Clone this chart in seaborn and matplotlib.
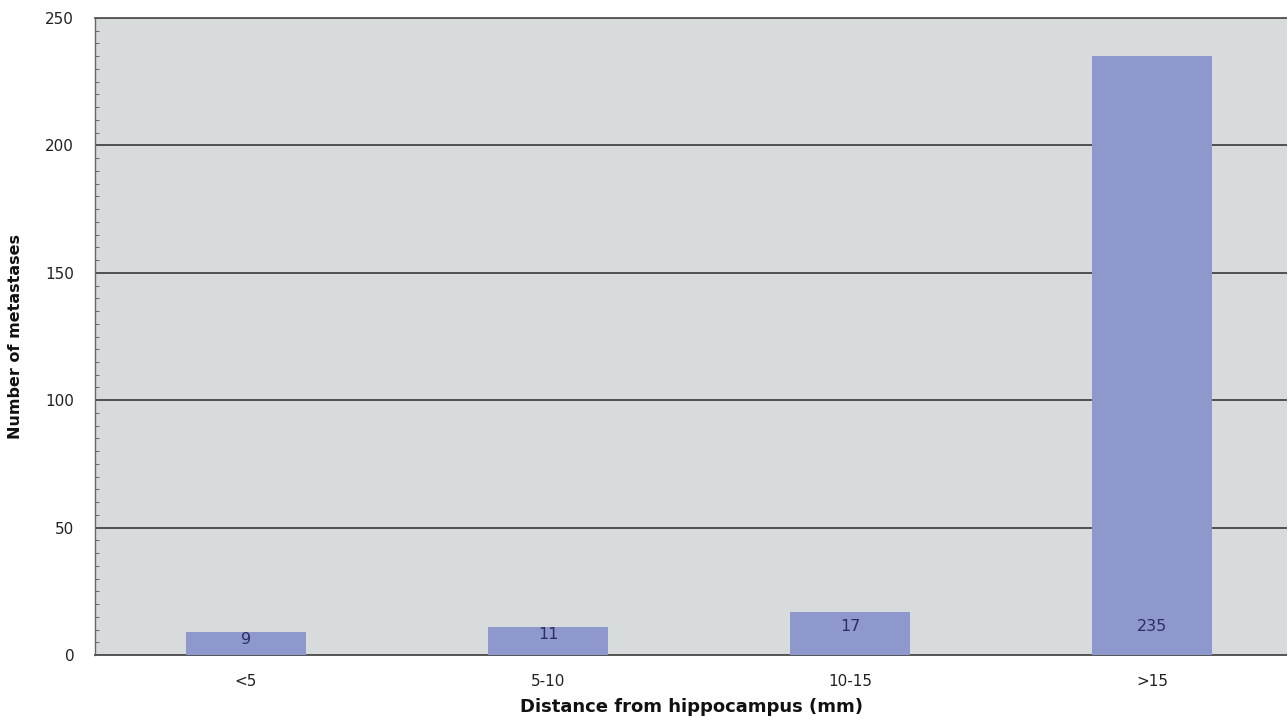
import matplotlib
matplotlib.use("Agg")
import matplotlib.pyplot as plt
import seaborn as sns
import pandas as pd
from matplotlib.ticker import MultipleLocator

# Metastasis counts by distance band
categories = ["<5", "5-10", "10-15", ">15"]
counts = [9, 11, 17, 235]

df = pd.DataFrame({"distance": categories, "count": counts})

sns.set_theme(style="white")
plt.rcParams["font.family"] = ["DejaVu Sans"]

fig = plt.figure(figsize=(12.87, 7.19), dpi=100)
ax = fig.add_axes([95 / 1287, 64 / 719, 1 - 95 / 1287, (655 - 18) / 719])
ax.set_facecolor("#d8dbdb")

sns.barplot(data=df, x="distance", y="count", color="#8f98cd", saturation=1,
            width=0.4, ax=ax, zorder=3, edgecolor="none", linewidth=0)

ax.set_ylim(0, 250)
ax.set_xlim(-0.5, 3.447)
ax.yaxis.set_major_locator(MultipleLocator(50))
ax.yaxis.set_minor_locator(MultipleLocator(5))
ax.grid(axis="y", which="major", color="#454545", linewidth=1.3, zorder=1)
ax.set_axisbelow(True)

# category boundary ticks on the x axis
ax.set_xticks([0, 1, 2, 3])
ax.set_xticks([0.5, 1.5, 2.5], minor=True)
ax.tick_params(axis="x", which="major", length=0, pad=14, labelsize=11, labelcolor="#222222")
ax.tick_params(axis="x", which="minor", length=5, width=0.8, color="#666666", direction="out")
ax.tick_params(axis="y", which="major", length=6, width=0.8, color="#555555", direction="out",
               labelsize=11, labelcolor="#222222", pad=9)
ax.tick_params(axis="y", which="minor", length=3, width=0.7, color="#666666", direction="in", left=True)

ax.spines["right"].set_visible(False)
ax.spines["top"].set_color("#555555")
ax.spines["top"].set_linewidth(1.3)
ax.spines["left"].set_color("#666666")
ax.spines["left"].set_linewidth(1.0)
ax.spines["bottom"].set_color("#555555")
ax.spines["bottom"].set_linewidth(1.4)

# value labels inside the bars, near the base
for i, v in enumerate(counts):
    ax.text(i, min(v - 3, 11), str(v), ha="center", va="center",
            fontsize=11.5, color="#2a2f5e", zorder=4)

ax.set_xlabel("Distance from hippocampus (mm)", fontsize=13, fontweight="bold",
              color="#111111", labelpad=6)
ax.set_ylabel("Number of metastases", fontsize=11.5, fontweight="bold",
              color="#111111", labelpad=16)

fig.savefig("out.png", dpi=100, facecolor="white")
